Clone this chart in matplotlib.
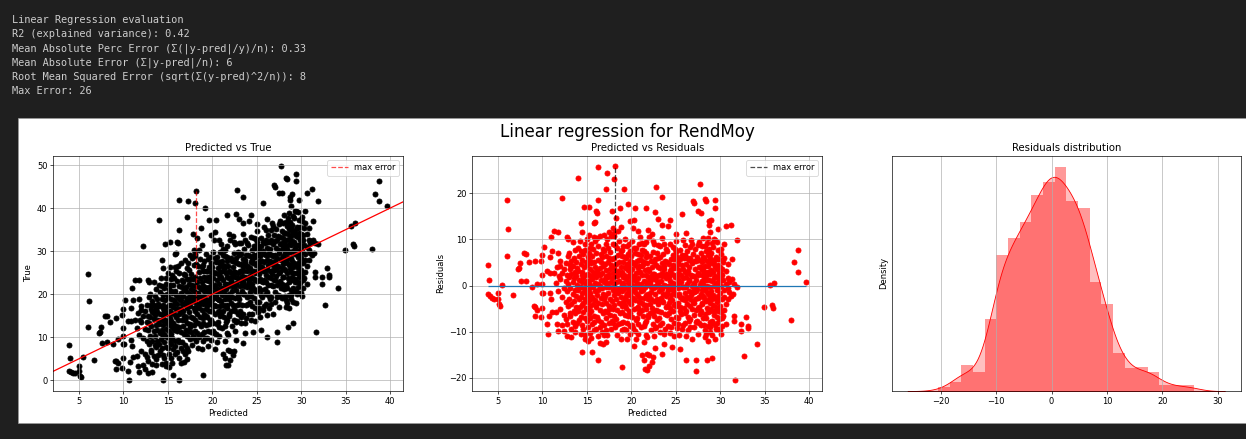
import numpy as np
import matplotlib.pyplot as plt
from matplotlib.patches import Rectangle
import seaborn as sns

# test set: model predictions and observed RendMoy, grouped by prediction band
y_pred = [
    3.9, 4.0, 3.9, 4.1, 4.3, 4.6, 5.0, 5.0, 5.1, 5.2, 5.4, 6.0, 6.1, 6.0, 6.7,
    7.9, 8.2, 7.5, 7.4, 8.5, 9.2, 9.9, 9.8, 7.3, 7.6, 8.1, 8.8, 9.4, 9.0, 9.2, 9.4, 9.2, 9.8, 9.9, 10.0, 9.9, 10.1,
    10.2, 10.5, 10.5, 10.6, 10.7, 10.8, 10.9, 10.9, 10.0,
    11.0, 11.0, 11.1, 11.1, 11.3, 11.3, 11.5, 11.5, 11.6, 11.6, 11.8, 11.8, 11.8, 11.8, 11.9,
    12.0, 12.0, 12.0, 12.0, 12.2, 12.2, 12.2, 12.2, 12.4, 12.4, 12.4, 12.4, 12.6, 12.6, 12.6, 12.6,
    12.8, 12.8, 12.8, 12.8, 12.8, 12.9, 12.9, 12.9, 12.9,
    13.0, 13.0, 13.0, 13.1, 13.1, 13.1, 13.2, 13.2, 13.2, 13.2, 13.2, 13.4, 13.4, 13.4, 13.4, 13.4,
    13.5, 13.5, 13.5, 13.5, 13.7, 13.7, 13.7, 13.7, 13.7, 13.8, 13.8, 13.8, 13.8, 13.9, 13.9, 13.9,
    14.0, 14.0, 14.0, 14.0, 14.0, 14.1, 14.1, 14.1, 14.1, 14.3, 14.3, 14.3, 14.3, 14.3, 14.3, 14.3,
    14.4, 14.4, 14.4, 14.4, 14.5, 14.5, 14.5, 14.5, 14.5, 14.6, 14.6, 14.6, 14.6, 14.6, 14.7, 14.7, 14.7,
    14.8, 14.8, 14.8, 14.8, 14.8, 14.8, 14.9, 14.9, 14.9, 14.9,
    15.0, 15.0, 15.0, 15.0, 15.0, 15.0, 15.1, 15.1, 15.1, 15.1, 15.1, 15.2, 15.2, 15.2, 15.2, 15.2,
    15.3, 15.3, 15.3, 15.3, 15.4, 15.4, 15.4, 15.4, 15.4, 15.5, 15.5, 15.5, 15.5, 15.5,
    15.6, 15.6, 15.6, 15.6, 15.6, 15.7, 15.7, 15.7, 15.7, 15.8, 15.8, 15.8, 15.8, 15.8,
    15.9, 15.9, 15.9, 15.9, 15.9, 15.9,
    16.0, 16.0, 16.0, 16.0, 16.0, 16.1, 16.1, 16.1, 16.1, 16.1, 16.2, 16.2, 16.2, 16.2, 16.2, 16.2,
    16.3, 16.3, 16.3, 16.3, 16.3, 16.5, 16.5, 16.5, 16.5, 16.5, 16.5, 16.6, 16.6, 16.6, 16.6, 16.6,
    16.7, 16.7, 16.7, 16.7, 16.7, 16.8, 16.8, 16.8, 16.8, 16.8, 16.9, 16.9, 16.9, 16.9, 16.9,
    17.0, 17.0, 17.0, 17.0, 17.1, 17.1, 17.1, 17.1, 17.1, 17.1, 17.2, 17.2, 17.2, 17.2,
    17.3, 17.3, 17.3, 17.3, 17.3, 17.4, 17.4, 17.4, 17.4, 17.5, 17.5, 17.5, 17.5, 17.5,
    17.6, 17.6, 17.6, 17.6, 17.7, 17.7, 17.7, 17.7, 17.8, 17.8, 17.8, 17.8, 17.8, 17.9, 17.9, 17.9, 17.9,
    18.0, 18.0, 18.0, 18.0, 18.0, 18.1, 18.1, 18.1, 18.1, 18.2, 18.2, 18.2, 18.2, 18.2,
    18.3, 18.3, 18.3, 18.3, 18.3, 18.4, 18.4, 18.4, 18.4, 18.5, 18.5, 18.5, 18.5, 18.6, 18.6, 18.6, 18.6,
    18.7, 18.7, 18.7, 18.7, 18.8, 18.8, 18.8, 18.8, 18.9, 18.9, 18.9, 18.9, 18.9,
    19.0, 19.0, 19.0, 19.0, 19.1, 19.1, 19.1, 19.1, 19.2, 19.2, 19.2, 19.2, 19.3, 19.3, 19.3, 19.3,
    19.4, 19.4, 19.4, 19.5, 19.5, 19.5, 19.5, 19.5, 19.6, 19.6, 19.6, 19.6, 19.7, 19.7, 19.7, 19.7,
    19.8, 19.8, 19.8, 19.8, 19.9, 19.9, 19.9, 19.9, 19.9,
    20.0, 20.0, 20.0, 20.0, 20.1, 20.1, 20.1, 20.1, 20.2, 20.2, 20.2, 20.2, 20.3, 20.3, 20.3, 20.3,
    20.4, 20.4, 20.4, 20.4, 20.5, 20.5, 20.5, 20.5, 20.6, 20.6, 20.6, 20.7, 20.7, 20.7, 20.7,
    20.8, 20.8, 20.8, 20.8, 20.9, 20.9, 20.9, 20.9,
    21.0, 21.0, 21.0, 21.0, 21.1, 21.1, 21.1, 21.2, 21.2, 21.2, 21.2, 21.3, 21.3, 21.3,
    21.4, 21.4, 21.4, 21.4, 21.4, 21.4, 21.5, 21.5, 21.5, 21.5, 21.6, 21.6, 21.6, 21.6,
    21.7, 21.7, 21.7, 21.7, 21.8, 21.8, 21.8, 21.8, 21.8, 21.9, 21.9, 21.9, 21.9,
    22.0, 22.0, 22.0, 22.0, 22.0, 22.1, 22.1, 22.1, 22.2, 22.2, 22.2, 22.3, 22.3, 22.3, 22.3,
    22.4, 22.4, 22.4, 22.4, 22.5, 22.5, 22.5, 22.5, 22.6, 22.6, 22.6, 22.7, 22.7, 22.7, 22.7,
    22.8, 22.8, 22.8, 22.8, 22.9, 22.9, 22.9,
    23.0, 23.0, 23.0, 23.0, 23.1, 23.1, 23.1, 23.2, 23.2, 23.2, 23.3, 23.3, 23.3,
    23.4, 23.4, 23.4, 23.4, 23.4, 23.5, 23.5, 23.5, 23.6, 23.6, 23.6, 23.7, 23.7, 23.7,
    23.8, 23.8, 23.8, 23.9, 23.9, 23.9,
    24.0, 24.0, 24.0, 24.1, 24.1, 24.1, 24.2, 24.2, 24.2, 24.3, 24.3, 24.3, 24.3,
    24.4, 24.4, 24.4, 24.5, 24.5, 24.5, 24.6, 24.6, 24.6, 24.7, 24.7, 24.7,
    24.8, 24.8, 24.8, 24.8, 24.9, 24.9, 24.9,
    25.0, 25.0, 25.0, 25.0, 25.0, 25.1, 25.1, 25.1, 25.2, 25.2, 25.2, 25.3, 25.3, 25.3,
    25.4, 25.4, 25.4, 25.5, 25.5, 25.5, 25.6, 25.6, 25.6, 25.7, 25.7, 25.7,
    25.8, 25.8, 25.8, 25.9, 25.9, 25.9,
    26.0, 26.0, 26.0, 26.0, 26.1, 26.1, 26.1, 26.2, 26.2, 26.2, 26.2, 26.3, 26.3, 26.3,
    26.4, 26.4, 26.4, 26.5, 26.5, 26.5, 26.6, 26.6, 26.6, 26.7, 26.7, 26.7,
    26.8, 26.8, 26.8, 26.8, 26.9, 26.9, 26.9,
    27.0, 27.0, 27.0, 27.0, 27.1, 27.1, 27.1, 27.2, 27.2, 27.2, 27.3, 27.3, 27.3, 27.3,
    27.4, 27.4, 27.4, 27.5, 27.5, 27.5, 27.5, 27.6, 27.6, 27.6, 27.7, 27.7, 27.7,
    27.8, 27.8, 27.8, 27.8, 27.9, 27.9, 27.9,
    28.0, 28.0, 28.0, 28.0, 28.0, 28.1, 28.1, 28.1, 28.1, 28.2, 28.2, 28.2, 28.2,
    28.3, 28.3, 28.3, 28.3, 28.3, 28.4, 28.4, 28.4, 28.4, 28.4, 28.5, 28.5, 28.5, 28.5, 28.5,
    28.6, 28.6, 28.6, 28.6, 28.6, 28.7, 28.7, 28.7, 28.7, 28.7, 28.8, 28.8, 28.8, 28.8,
    28.9, 28.9, 28.9, 28.9, 28.9,
    29.0, 29.0, 29.0, 29.0, 29.0, 29.1, 29.1, 29.1, 29.1, 29.1, 29.2, 29.2, 29.2, 29.2,
    29.3, 29.3, 29.3, 29.3, 29.4, 29.4, 29.4, 29.4, 29.4, 29.5, 29.5, 29.5, 29.5,
    29.6, 29.6, 29.6, 29.6, 29.7, 29.7, 29.7, 29.7, 29.7, 29.8, 29.8, 29.8, 29.8,
    29.9, 29.9, 29.9, 29.9,
    30.0, 30.0, 30.0, 30.0, 30.0, 30.1, 30.1, 30.1, 30.2, 30.2, 30.2, 30.3, 30.3, 30.3,
    30.4, 30.4, 30.4, 30.6, 30.6, 30.7, 30.7, 30.7, 30.9, 30.9,
    31.0, 31.0, 31.2, 31.2, 31.3, 31.3, 31.4, 31.6, 31.6, 31.6, 31.7, 31.9, 31.9,
    32.3, 32.3, 32.7, 32.9, 33.1, 33.1, 34.1,
    34.9, 35.6, 35.8, 35.9, 36.0, 38.0, 38.3, 38.7, 38.7, 39.7,
    # core, in-between predictions
    13.05, 13.05, 13.65, 13.65, 14.25, 14.25, 14.75, 14.75, 15.25, 15.25, 15.75, 15.75,
    16.45, 16.45, 16.95, 16.95, 17.45, 17.45, 17.95, 17.95, 18.45, 18.45, 18.85, 18.85,
    19.05, 19.05, 19.05, 19.25, 19.25, 19.25, 19.45, 19.45, 19.45, 19.65, 19.65, 19.65, 19.85, 19.85, 19.85,
    20.05, 20.05, 20.05, 20.25, 20.25, 20.25, 20.45, 20.45, 20.45, 20.65, 20.65, 20.65, 20.85, 20.85, 20.85,
    21.05, 21.05, 21.05, 21.25, 21.25, 21.25, 21.45, 21.45, 21.45, 21.65, 21.65, 21.65, 21.85, 21.85, 21.85,
    22.05, 22.05, 22.05, 22.25, 22.25, 22.25, 22.45, 22.45, 22.45, 22.65, 22.65, 22.65, 22.85, 22.85, 22.85,
    23.05, 23.05, 23.05, 23.25, 23.25, 23.25, 23.45, 23.45, 23.45, 23.65, 23.65, 23.65, 23.85, 23.85, 23.85,
    24.05, 24.05, 24.05, 24.25, 24.25, 24.25, 24.45, 24.45, 24.45, 24.65, 24.65, 24.65, 24.85, 24.85, 24.85,
    25.05, 25.05, 25.05, 25.25, 25.25, 25.25, 25.45, 25.45, 25.45, 25.65, 25.65, 25.65, 25.85, 25.85, 25.85,
    26.05, 26.05, 26.05, 26.25, 26.25, 26.25, 26.45, 26.45, 26.45, 26.65, 26.65, 26.65, 26.85, 26.85, 26.85,
    27.05, 27.05, 27.05, 27.25, 27.25, 27.25, 27.45, 27.45, 27.45, 27.65, 27.65, 27.65, 27.85, 27.85, 27.85,
    28.05, 28.05, 28.05, 28.25, 28.25, 28.25, 28.45, 28.45, 28.45, 28.65, 28.65, 28.65, 28.85, 28.85, 28.85,
    29.05, 29.05, 29.05, 29.25, 29.25, 29.25, 29.45, 29.45, 29.45, 29.65, 29.65, 29.65, 29.85, 29.85, 29.85,
    30.05, 30.05, 30.05, 30.25, 30.25, 30.45, 30.45, 30.85, 30.85,
]
y_true = [
    8.3, 5.2, 2.1, 1.9, 1.7, 1.8, 3.4, 2.2, 1.1, 0.7, 5.5, 12.3, 18.4, 24.6, 4.7,
    15.0, 15.0, 12.3, 11.2, 13.6, 14.5, 16.5, 15.1, 10.9, 8.6, 9.0, 8.4, 9.7, 4.6, 4.5, 4.1, 2.7, 2.9, 8.4, 5.2, 12.1, 8.5,
    18.6, 2.2, 13.7, 0.1, 4.2, 16.9, 13.7, 9.4, 10.3,
    21.5, 8.0, 18.6, 5.3, 23.2, 14.1, 5.7, 12.1, 3.3, 15.6, 23.4, 18.9, 2.0, 10.6, 13.9,
    17.3, 16.3, 6.9, 13.5, 31.2, 3.6, 15.0, 9.8, 16.0, 11.9, 6.1, 2.6, 5.4, 13.6, 17.4, 9.1,
    23.3, 4.5, 15.0, 11.6, 1.8, 22.9, 19.4, 13.3, 8.5,
    20.1, 10.2, 14.8, 16.6, 6.6, 12.6, 18.5, 3.8, 2.0, 15.8, 9.2, 14.2, 11.5, 17.6, 5.6, 22.9,
    19.5, 10.2, 8.1, 15.1, 3.6, 16.7, 12.8, 7.7, 21.3, 15.8, 9.2, 18.8, 11.6, 5.9, 14.1, 17.7,
    37.3, 22.2, 17.2, 13.0, 8.4, 20.5, 15.3, 11.1, 6.7, 27.9, 21.8, 18.9, 14.1, 11.8, 3.8, 7.6,
    16.8, 10.2, 15.2, 19.9, 26.2, 0.1, 5.9, 17.5, 12.8, 5.2, 21.4, 16.2, 10.8, 8.8, 31.7, 18.7, 14.1,
    23.8, 4.0, 3.3, 17.0, 12.0, 7.8, 20.1, 13.5, 15.3, 10.1,
    25.0, 7.4, 19.4, 13.0, 15.9, 10.0, 21.3, 17.6, 11.5, 6.1, 3.1, 32.2, 16.2, 14.4, 22.2, 9.0,
    23.5, 18.9, 10.8, 5.1, 20.8, 13.8, 15.6, 8.4, 17.4, 24.5, 12.5, 20.3, 9.9, 4.1,
    1.2, 22.1, 17.0, 13.2, 7.2, 18.7, 15.3, 11.7, 23.7, 29.4, 20.8, 9.2, 18.0, 6.2,
    25.5, 29.6, 14.7, 16.5, 12.7, 19.9,
    32.1, 6.6, 17.8, 11.4, 23.0, 31.8, 19.3, 14.1, 9.3, 26.5, 41.8, 0.0, 16.6, 21.8, 5.2, 12.4,
    34.9, 24.9, 15.3, 8.9, 18.9, 20.4, 4.0, 7.5, 11.3, 16.5, 27.3, 21.6, 14.0, 17.8, 8.8, 23.4,
    22.8, 12.7, 19.5, 6.7, 16.1, 24.8, 10.8, 21.0, 15.0, 4.2, 24.4, 13.9, 17.7, 27.9, 8.3,
    18.4, 11.6, 21.6, 14.8, 37.9, 26.1, 4.9, 7.4, 19.1, 16.7, 23.6, 13.4, 10.2, 20.6,
    41.7, 27.3, 17.9, 11.5, 6.7, 22.4, 15.8, 25.6, 19.2, 13.1, 20.1, 9.5, 23.5, 17.3,
    21.2, 11.2, 14.8, 24.8, 28.4, 8.3, 18.5, 22.1, 33.9, 14.4, 19.4, 10.2, 23.6, 26.9, 16.9, 20.7, 12.9,
    41.1, 29.4, 16.0, 21.8, 11.4, 28.8, 18.1, 13.9, 24.1, 44.0, 9.2, 20.4, 17.0, 27.0,
    33.0, 22.9, 15.3, 11.1, 19.1, 26.6, 13.2, 20.4, 7.6, 25.1, 16.9, 21.7, 10.1, 19.6, 14.8, 23.8, 28.2,
    35.4, 18.1, 12.7, 21.3, 26.3, 16.4, 22.8, 7.2, 1.3, 9.2, 19.3, 25.3, 14.5,
    22.0, 17.8, 13.2, 26.8, 19.7, 15.5, 24.1, 11.3, 40.0, 9.8, 21.6, 19.0, 25.5, 16.5, 12.9, 29.3,
    20.8, 14.6, 23.2, 28.1, 24.1, 8.0, 17.9, 11.5, 37.3, 21.6, 16.2, 26.4, 18.9, 14.1, 23.9, 28.7,
    33.8, 20.8, 17.8, 9.4, 25.2, 11.2, 22.9, 19.5, 13.9,
    22.0, 16.0, 26.4, 19.0, 29.7, 13.3, 20.3, 23.7, 32.6, 17.6, 25.0, 11.0, 34.5, 21.5, 15.3, 7.3,
    37.2, 27.4, 19.8, 17.2, 28.7, 9.0, 23.3, 13.1, 26.0, 18.8, 21.2, 32.5, 12.4, 24.5, 16.1,
    10.3, 22.4, 27.6, 18.6, 25.1, 20.7, 14.9, 29.9,
    24.0, 18.4, 15.4, 31.6, 21.5, 26.7, 12.1, 6.1, 23.4, 17.4, 29.0, 20.3, 25.9, 14.7,
    30.3, 28.9, 9.2, 5.2, 22.4, 17.2, 3.5, 24.9, 21.1, 13.5, 38.4, 27.7, 14.0, 19.6,
    24.1, 16.7, 31.1, 11.1, 10.6, 7.0, 3.5, 22.0, 26.6, 18.9, 23.7, 15.5, 33.9,
    32.5, 6.9, 4.7, 25.2, 19.8, 16.1, 22.9, 28.5, 12.6, 24.2, 20.8, 33.5, 5.8, 26.3, 17.5,
    6.9, 21.8, 29.6, 14.0, 23.9, 19.1, 27.5, 11.5, 31.6, 16.0, 25.2, 38.7, 20.9, 9.3, 22.7,
    44.1, 27.2, 17.6, 13.8, 24.9, 20.1, 29.9,
    37.5, 23.6, 19.0, 29.0, 16.1, 25.5, 21.9, 27.0, 13.2, 31.8, 20.7, 24.3, 17.5,
    42.5, 36.5, 8.6, 28.2, 23.0, 15.5, 26.3, 33.9, 20.0, 30.4, 21.8, 11.1, 23.9, 27.3,
    17.6, 29.2, 14.4, 25.5, 21.7, 31.9,
    26.4, 19.6, 31.4, 37.0, 23.1, 15.3, 28.8, 24.2, 18.2, 38.4, 21.5, 27.5, 14.1,
    25.4, 19.6, 33.4, 17.3, 30.3, 23.7, 11.3, 27.2, 21.4, 31.3, 19.1, 25.3,
    13.8, 28.6, 23.2, 16.8, 26.7, 32.9, 20.9,
    36.2, 34.6, 23.0, 29.0, 18.2, 25.5, 15.9, 31.3, 27.8, 21.4, 24.6, 18.3, 30.3, 26.7,
    23.6, 28.8, 14.8, 11.8, 33.1, 20.9, 26.4, 27.8, 19.4, 41.2, 30.1, 22.9,
    17.2, 27.4, 35.6, 25.5, 21.1, 31.9,
    29.0, 22.8, 32.6, 17.8, 37.5, 25.9, 20.5, 10.0, 28.0, 30.8, 15.2, 23.9, 33.7, 26.7,
    19.6, 29.6, 16.8, 32.1, 25.3, 27.5, 22.2, 35.0, 19.4, 36.5, 29.1, 24.7,
    15.3, 31.6, 21.8, 26.8, 45.3, 33.7, 23.3,
    29.0, 20.6, 32.4, 25.6, 45.0, 18.1, 27.7, 30.8, 24.2, 35.2, 11.2, 8.9, 28.5, 22.1,
    33.6, 26.6, 19.8, 43.6, 30.3, 24.9, 17.1, 31.6, 23.0, 37.0, 49.7, 27.9, 21.5,
    43.5, 34.8, 26.0, 19.2, 31.3, 24.1, 28.9,
    33.0, 27.0, 36.6, 24.0, 30.4, 38.3, 21.1, 28.5, 31.9, 34.2, 25.6, 19.6, 29.6,
    47.1, 22.2, 17.1, 32.5, 27.7, 46.7, 17.9, 35.8, 30.4, 25.0, 12.4, 33.9, 28.5, 23.7, 37.7,
    22.8, 16.7, 31.6, 26.8, 35.2, 42.7, 41.9, 29.9, 25.9, 36.7, 23.4, 33.6, 28.4, 21.0,
    40.4, 31.5, 25.1, 34.9, 19.9,
    43.3, 32.4, 27.8, 24.0, 36.0, 21.5, 18.3, 13.4, 30.1, 34.3, 27.2, 37.6, 25.0, 32.2,
    39.3, 29.3, 22.9, 33.9, 48.0, 46.2, 20.8, 31.4, 26.8, 20.1, 35.7, 30.1, 24.9,
    39.1, 33.2, 28.6, 22.8, 41.9, 31.5, 26.5, 37.3, 24.1, 20.4, 34.2, 30.0, 27.6,
    35.7, 31.1, 22.7, 32.7,
    20.3, 34.0, 28.4, 31.0, 25.6, 19.6, 36.9, 30.1, 32.6, 27.2, 23.2, 23.8, 35.3, 31.5,
    39.3, 29.4, 28.0, 31.0, 26.6, 43.6, 22.3, 33.9, 30.3, 32.5,
    29.6, 31.8, 44.4, 29.0, 37.0, 32.7, 29.6, 25.1, 24.0, 32.0, 11.2, 41.7, 31.7,
    24.0, 22.4, 17.4, 26.0, 24.4, 23.9, 21.5,
    30.3, 35.8, 31.6, 31.1, 36.5, 30.6, 43.3, 46.3, 41.6, 40.5,
    # core, in-between predictions
    7.05, 17.45, 4.85, 16.45, 9.65, 23.85, 13.85, 22.35, 12.85, 26.25, 7.95, 26.35,
    15.95, 18.65, 6.15, 21.55, 12.45, 29.05, 9.75, 30.35, 17.65, 30.25, 10.85, 31.45,
    18.25, 20.85, 27.65, 15.05, 23.25, 18.65, 9.85, 25.45, 17.25, 20.25, 13.05, 23.05, 27.25, 16.05, 18.45,
    11.45, 25.25, 17.25, 28.45, 19.95, 22.25, 19.05, 24.85, 10.65, 20.85, 15.85, 13.65, 23.85, 17.25, 26.45,
    19.85, 27.65, 20.25, 25.45, 16.05, 30.45, 18.85, 26.65, 12.65, 22.45, 17.45, 28.65, 15.05, 25.45, 20.05,
    22.35, 18.05, 23.25, 21.95, 27.65, 19.45, 25.05, 16.65, 32.05, 22.25, 28.45, 13.45, 19.45, 23.85, 15.45,
    17.65, 27.05, 31.85, 29.45, 14.65, 23.05, 25.45, 20.05, 22.65, 32.65, 13.25, 27.85, 19.25, 26.45, 23.85,
    17.65, 29.05, 22.45, 24.05, 20.45, 26.05, 15.45, 28.05, 22.45, 29.05, 23.65, 33.05, 24.85, 20.65, 30.65,
    20.65, 27.25, 32.25, 16.85, 25.85, 29.85, 31.25, 23.05, 19.85, 16.25, 32.25, 25.45, 29.45, 25.65, 23.25,
    34.85, 24.45, 20.05, 29.05, 22.25, 32.25, 18.85, 30.45, 27.65, 23.85, 32.65, 17.65, 28.85, 25.55, 35.85,
    23.25, 26.55, 27.45, 19.45, 32.65, 26.05, 29.65, 22.65, 36.25, 19.65, 33.25, 25.25, 28.45, 22.45, 31.85,
    27.85, 34.25, 25.85, 31.25, 18.65, 36.85, 21.45, 29.65, 27.25, 32.85, 19.85, 38.85, 26.85, 35.65, 18.85,
    38.25, 26.25, 20.85, 34.85, 23.65, 30.85, 17.85, 39.25, 33.45, 26.05, 35.45, 21.65, 29.45, 24.85, 31.45,
    24.25, 32.65, 38.05, 21.45, 33.85, 25.25, 36.45, 27.85, 35.45,
]

report = [
    "Linear Regression evaluation",
    "R2 (explained variance): 0.42",
    "Mean Absolute Perc Error (\u03a3(|y-pred|/y)/n): 0.33",
    "Mean Absolute Error (\u03a3|y-pred|/n): 6",
    "Root Mean Squared Error (sqrt(\u03a3(y-pred)^2/n)): 8",
]

y_pred = np.array(y_pred)
y_true = np.array(y_true)
residuals = y_true - y_pred

# biggest miss
idx = np.argmax(np.abs(residuals))
max_error = np.abs(residuals[idx])
max_pred = y_pred[idx]
max_true = y_true[idx]
report.append("Max Error: " + str(int(round(max_error))))

W, H = 1246, 439
DPI = 60.5
fig = plt.figure(figsize=(W / DPI, H / DPI), dpi=DPI, facecolor="#1f1f1f")

# printed report above the figure
for i, line in enumerate(report):
    fig.text(12.5 / W, 1 - (20 + i * 14.2) / H, line, family="DejaVu Sans Mono",
             fontsize=12.2, color="#cccccc", va="center", ha="left")

fig.add_artist(Rectangle((18 / W, 16 / H), (W - 18) / W, 305 / H,
                         transform=fig.transFigure, facecolor="white",
                         edgecolor="#9a9a9a", linewidth=0.8, zorder=-1))

fig.text(627.8 / W, 1 - 131.7 / H, "Linear regression for RendMoy",
         fontsize=20, ha="center", va="center")

bottom = 48 / H
height = 235.3 / H
ax1 = fig.add_axes([53.3 / W, bottom, 350 / W, height])
ax2 = fig.add_axes([472.3 / W, bottom, 350 / W, height])
ax3 = fig.add_axes([891.7 / W, bottom, 349 / W, height])

# predicted vs true
ax1.scatter(y_pred, y_true, color="black")
ax1.axline((np.mean(y_pred), np.mean(y_pred)), slope=1, color="red")
ax1.vlines(x=max_pred, ymin=max_true, ymax=max_true - max_error, color="red",
           linestyle="--", alpha=0.7, label="max error")
ax1.grid(True)
ax1.set(xlabel="Predicted", ylabel="True", title="Predicted vs True")
ax1.legend(loc="upper right")

# predicted vs residuals
ax2.scatter(y_pred, residuals, color="red")
ax2.vlines(x=max_pred, ymin=0, ymax=max_error, color="black", linestyle="--",
           alpha=0.7, label="max error")
ax2.grid(True)
ax2.set(xlabel="Predicted", ylabel="Residuals", title="Predicted vs Residuals")
ax2.hlines(y=0, xmin=np.min(y_pred), xmax=np.max(y_pred))
ax2.legend(loc="upper right")

# residuals distribution
ax3.hist(residuals, bins=22, density=True, color="red", alpha=0.4)
sns.kdeplot(x=residuals, fill=True, color="red", ax=ax3)
ax3.grid(True)
ax3.set(yticks=[], yticklabels=[], title="Residuals distribution")

fig.savefig("out.png", dpi=DPI)
